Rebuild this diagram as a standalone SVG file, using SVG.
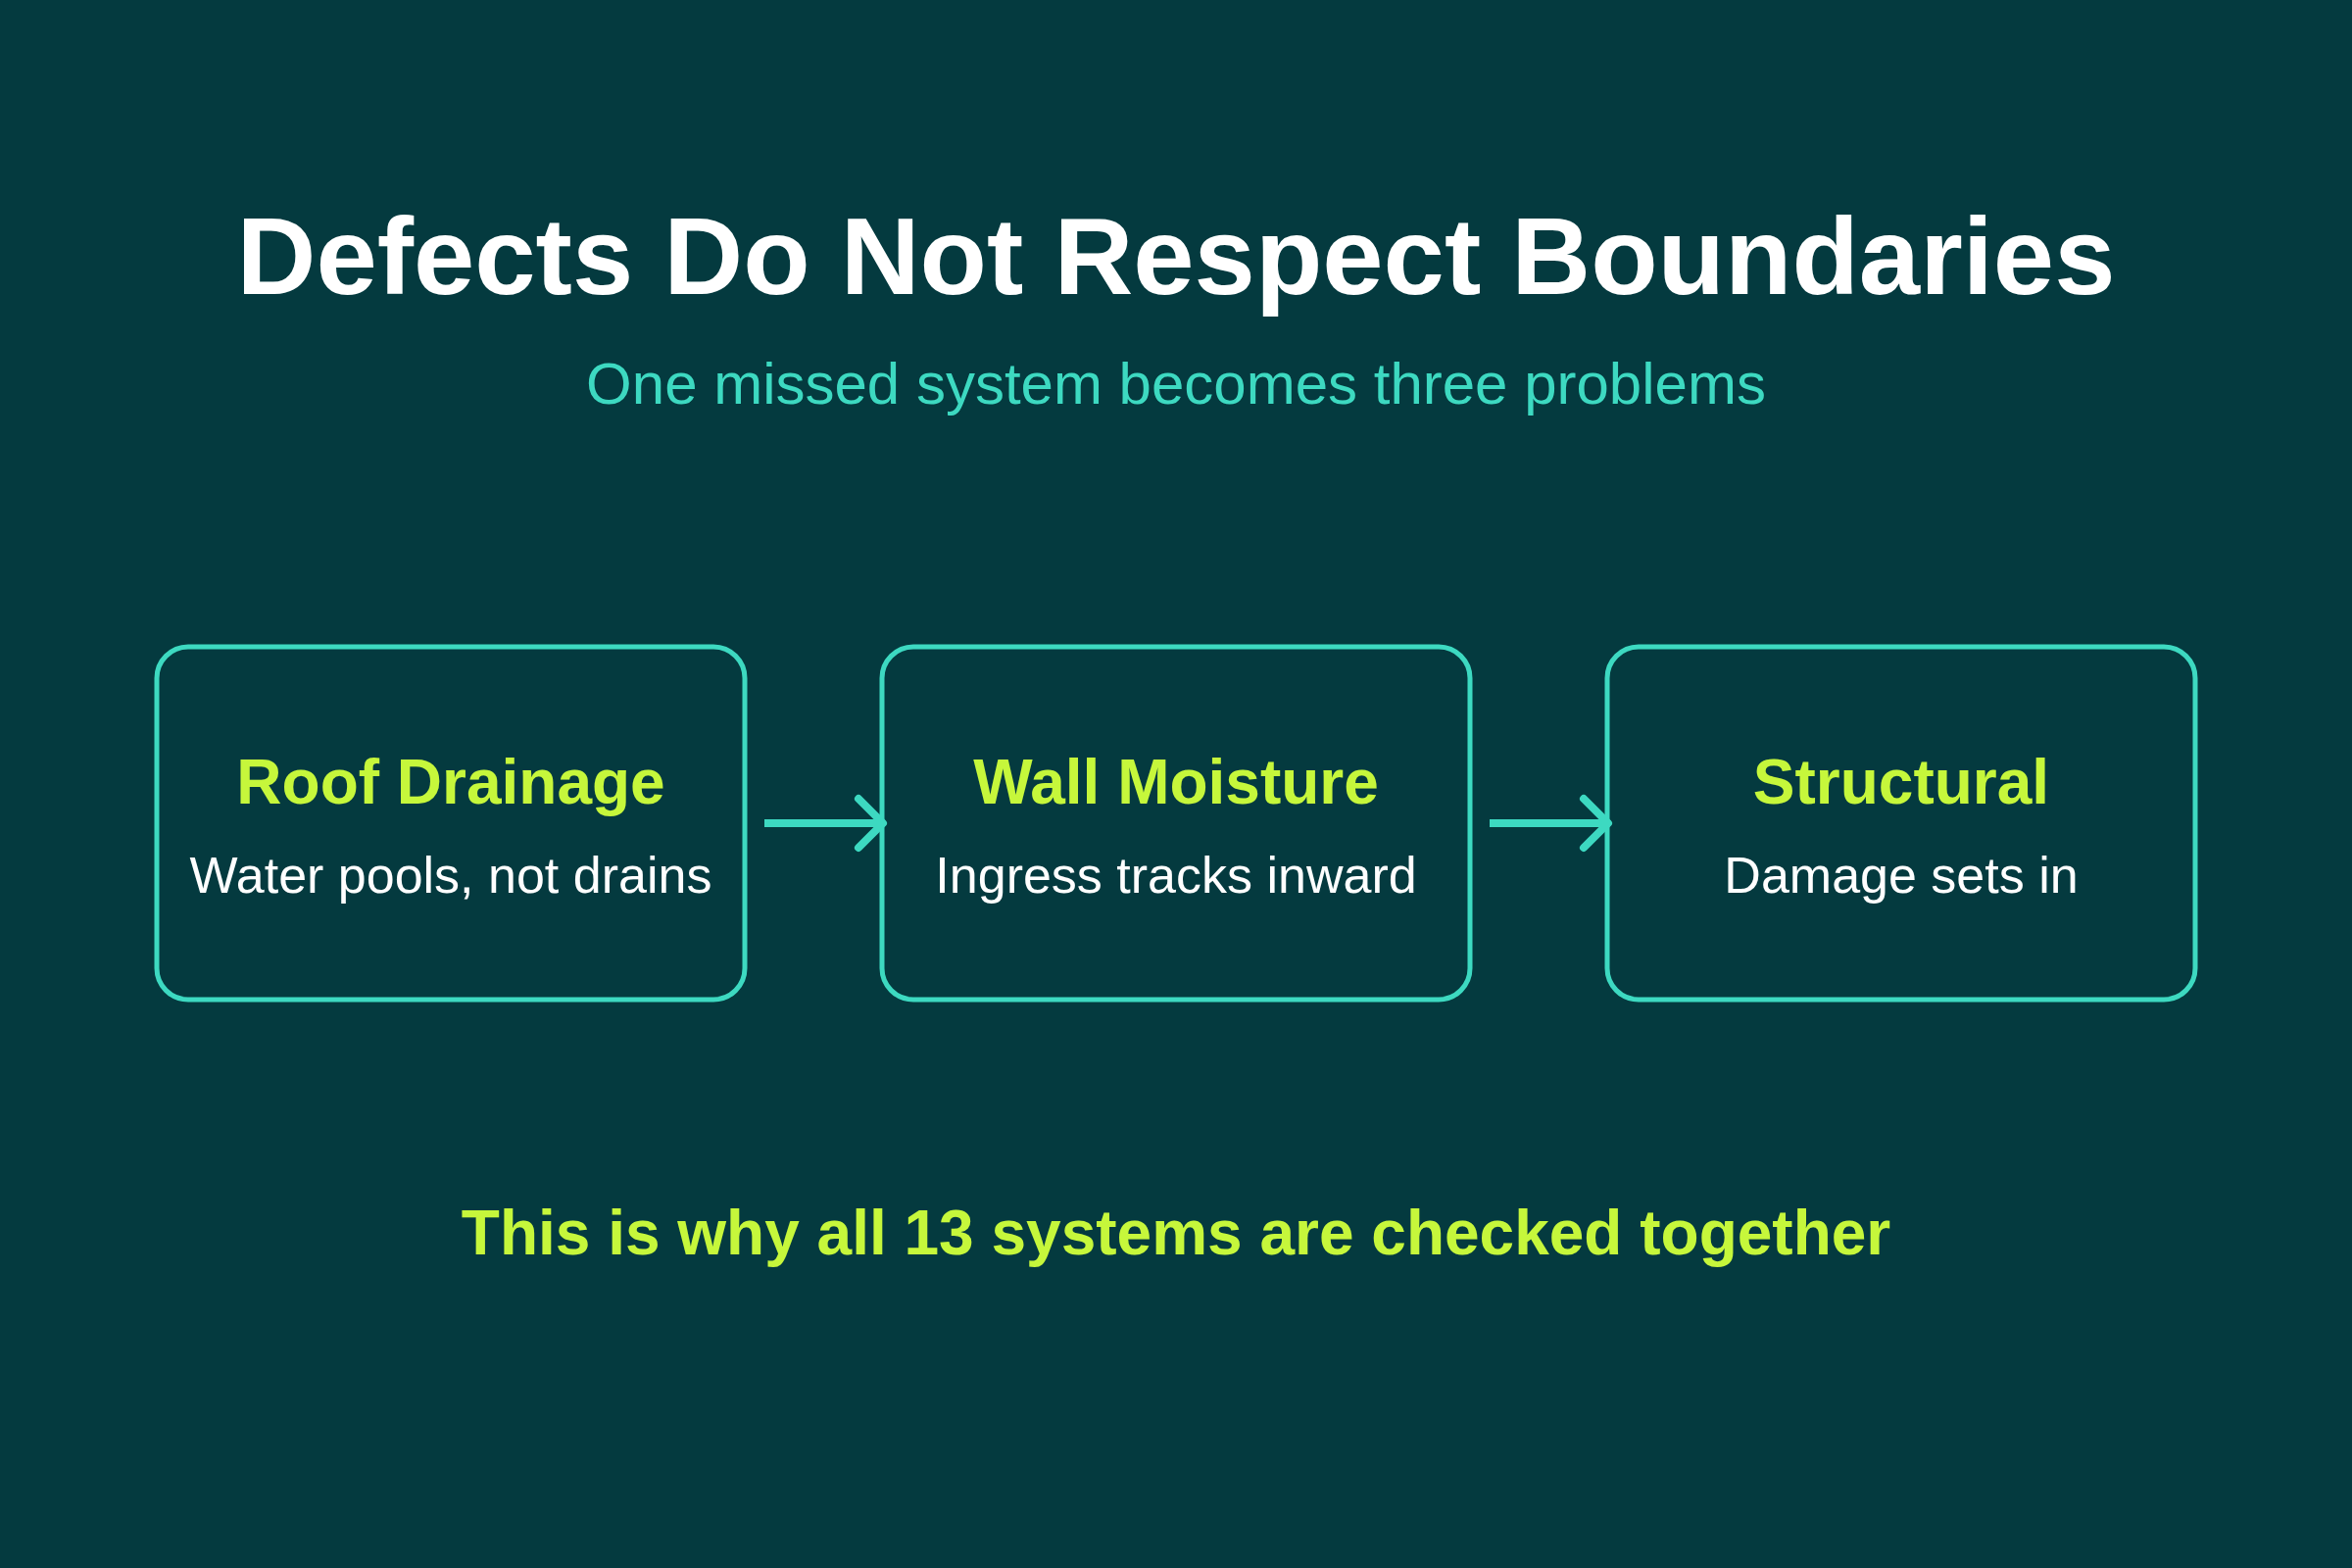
<svg xmlns="http://www.w3.org/2000/svg" width="2400" height="1600" viewBox="0 0 2400 1600">
  <defs>
    <style>
      .bg { fill: #043a3f; }
      .box { fill: none; stroke: #3dd9c1; stroke-width: 5; }
      .title { font-family: "Liberation Sans", Arial, sans-serif; font-weight: bold; font-size: 112px; fill: #ffffff; text-anchor: middle; }
      .subtitle { font-family: "Liberation Sans", Arial, sans-serif; font-size: 60px; fill: #3dd9c1; text-anchor: middle; }
      .ntitle { font-family: "Liberation Sans", Arial, sans-serif; font-weight: bold; font-size: 64px; fill: #c6f73b; text-anchor: middle; }
      .nsub { font-family: "Liberation Sans", Arial, sans-serif; font-size: 52px; fill: #ffffff; text-anchor: middle; }
      .footer { font-family: "Liberation Sans", Arial, sans-serif; font-weight: bold; font-size: 64px; fill: #c6f73b; text-anchor: middle; }
      .conn { fill: none; stroke: #3dd9c1; stroke-width: 8; stroke-linecap: butt; }
      .head { fill: none; stroke: #3dd9c1; stroke-width: 8; stroke-linecap: round; stroke-linejoin: round; }
    </style>
  </defs>
  <rect class="bg" x="0" y="0" width="2400" height="1600"/>
  <text class="title" x="1200" y="300">Defects Do Not Respect Boundaries</text>
  <text class="subtitle" x="1200" y="412">One missed system becomes three problems</text>

  <g id="node-roof">
    <rect class="box" x="160" y="660" width="600" height="360" rx="32"/>
    <text class="ntitle" x="460" y="820">Roof Drainage</text>
    <text class="nsub" x="460" y="911">Water pools, not drains</text>
  </g>
  <g id="node-wall">
    <rect class="box" x="900" y="660" width="600" height="360" rx="32"/>
    <text class="ntitle" x="1200" y="820">Wall Moisture</text>
    <text class="nsub" x="1200" y="911">Ingress tracks inward</text>
  </g>
  <g id="node-structural">
    <rect class="box" x="1640" y="660" width="600" height="360" rx="32"/>
    <text class="ntitle" x="1940" y="820">Structural</text>
    <text class="nsub" x="1940" y="911">Damage sets in</text>
  </g>

  <g id="connectors">
    <path class="conn" d="M780 840 H900"/>
    <path class="head" d="M876 815 L901 840 L876 865"/>
    <path class="conn" d="M1520 840 H1640"/>
    <path class="head" d="M1616 815 L1641 840 L1616 865"/>
  </g>

  <text class="footer" x="1200" y="1280">This is why all 13 systems are checked together</text>
</svg>
